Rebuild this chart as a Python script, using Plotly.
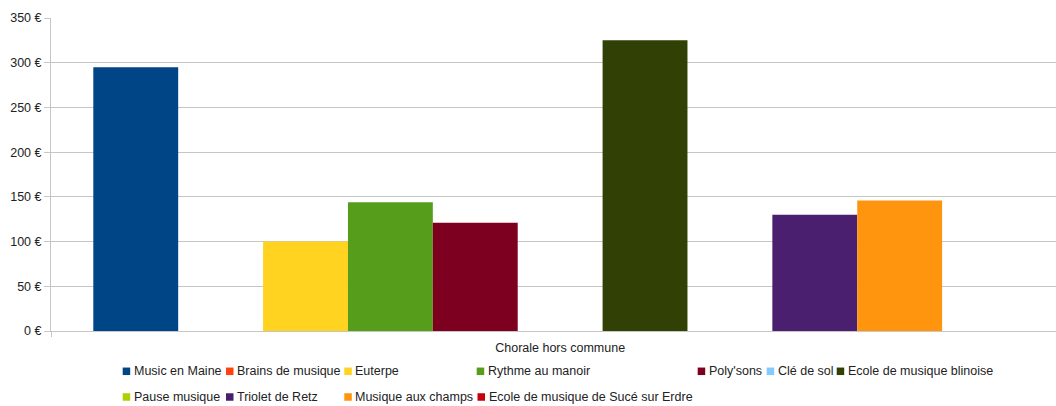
import plotly.graph_objects as go

# Data
category = ["Chorale hors commune"]
series_names = [
    "Music en Maine", "Brains de musique", "Euterpe", "Rythme au manoir",
    "Poly'sons", "Clé de sol", "Ecole de musique blinoise", "Pause musique",
    "Triolet de Retz", "Musique aux champs", "Ecole de musique de Sucé sur Erdre",
]
series_values = [295, None, 100, 144, 121, None, 325, None, 130, 146, None]
y_tickvals = [0, 50, 100, 150, 200, 250, 300, 350]
y_ticktext = [f"{v} €" for v in y_tickvals]

# Styling
colors = [
    "#004586", "#ff420e", "#ffd320", "#579d1c", "#7e0021", "#83caff",
    "#314004", "#aecf00", "#4b1f6f", "#ff950e", "#c5000b",
]
FONT = "Liberation Sans, Arial, sans-serif"
FS = 12.5
TEXT = "#222222"
GRID = "#c6c6c6"

W, H = 1056, 406
ML, MR, MT, MB = 51, 0, 18, 75
PW, PH = W - ML - MR, H - MT - MB

fig = go.Figure()
for name, val, col in zip(series_names, series_values, colors):
    fig.add_trace(go.Bar(
        x=category, y=[val], name=name, marker_color=col,
        marker_line_width=0, showlegend=False,
    ))

# Legend laid out as a grid under the plot (pixel positions of each swatch)
legend_pos = [
    (122.7, 371.3), (226.0, 371.3), (344.3, 371.3), (476.7, 371.3),
    (697.7, 371.3), (766.7, 371.3), (836.7, 371.3),
    (122.7, 397.0), (226.0, 397.0), (344.3, 397.0), (477.5, 397.0),
]
SW = 7.5


def px_x(v):
    return (v - ML) / PW


def px_y(v):
    return (H - MB - v) / PH


shapes = []
annotations = []
for (lx, ly), name, col in zip(legend_pos, series_names, colors):
    shapes.append(dict(
        type="rect", xref="paper", yref="paper",
        x0=px_x(lx), x1=px_x(lx + SW),
        y0=px_y(ly - SW / 2), y1=px_y(ly + SW / 2),
        fillcolor=col, line=dict(width=0),
    ))
    annotations.append(dict(
        text=name, xref="paper", yref="paper",
        x=px_x(lx + SW + 1.5), y=px_y(ly),
        xanchor="left", yanchor="middle", showarrow=False,
        font=dict(family=FONT, size=FS, color=TEXT),
    ))

# The category band runs past the right edge of the drawing area
band_px = 1018.3
fig.update_layout(
    width=W, height=H,
    margin=dict(l=ML, r=MR, t=MT, b=MB, pad=0),
    paper_bgcolor="white", plot_bgcolor="white",
    barmode="group", bargap=0.0831, bargroupgap=0,
    font=dict(family=FONT, size=FS, color=TEXT),
    shapes=shapes, annotations=annotations,
    xaxis=dict(
        type="category", range=[-0.5, -0.5 + PW / band_px],
        showline=True, linecolor=GRID, linewidth=1,
        ticks="outside", tickson="boundaries", ticklen=5,
        tickcolor=GRID, tickwidth=1, showgrid=False,
        ticklabelstandoff=5,
        tickfont=dict(family=FONT, size=FS, color=TEXT),
    ),
    yaxis=dict(
        range=[0, 350], tickvals=y_tickvals, ticktext=y_ticktext,
        showline=True, linecolor=GRID, linewidth=1,
        ticks="outside", ticklen=6, tickcolor=GRID, tickwidth=1,
        showgrid=True, gridcolor=GRID, gridwidth=1, zeroline=False,
        tickfont=dict(family=FONT, size=FS, color=TEXT),
    ),
)

fig.write_html("out.html", config={"displayModeBar": False})
